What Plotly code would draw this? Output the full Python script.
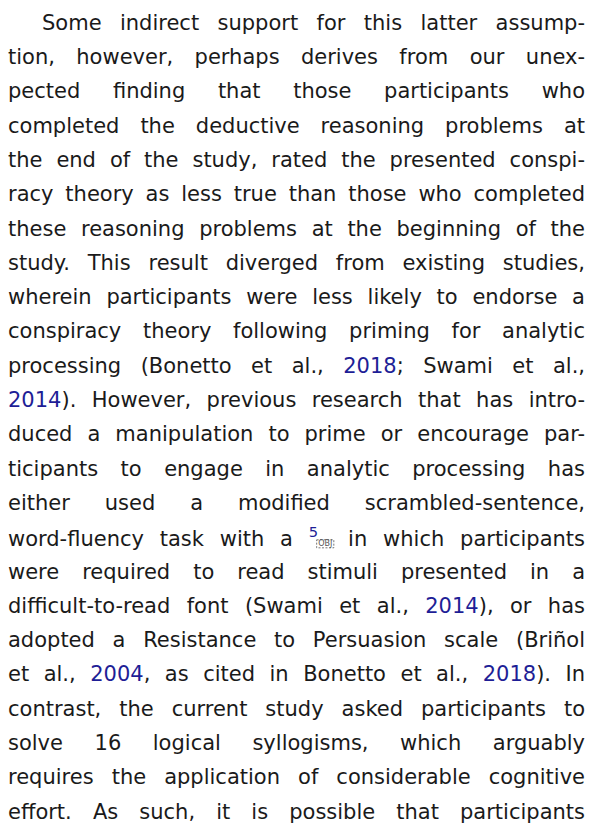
import json
import re
import plotly.graph_objects as go

# ---- content (text only) ----
lines = [
    "Some indirect support for this latter assump-",
    "tion, however, perhaps derives from our unex-",
    "pected finding that those participants who",
    "completed the deductive reasoning problems at",
    "the end of the study, rated the presented conspi-",
    "racy theory as less true than those who completed",
    "these reasoning problems at the beginning of the",
    "study. This result diverged from existing studies,",
    "wherein participants were less likely to endorse a",
    "conspiracy theory following priming for analytic",
    "processing (Bonetto et al., [[2018]]; Swami et al.,",
    "[[2014]]). However, previous research that has intro-",
    "duced a manipulation to prime or encourage par-",
    "ticipants to engage in analytic processing has",
    "either used a modified scrambled-sentence,",
    "word-fluency task with a ^^5^^##OBJ## in which participants",
    "were required to read stimuli presented in a",
    "difficult-to-read font (Swami et al., [[2014]]), or has",
    "adopted a Resistance to Persuasion scale (Briñol",
    "et al., [[2004]], as cited in Bonetto et al., [[2018]]). In",
    "contrast, the current study asked participants to",
    "solve 16 logical syllogisms, which arguably",
    "requires the application of considerable cognitive",
    "effort. As such, it is possible that participants",
]
indented_lines = [0]

# ---- styles / layout ----
W, H = 591, 832
FONT = "DejaVu Sans"
FONT_SIZE = 21
TEXT_COLOR = "#1a1a1a"
LINK_COLOR = "#1e1e96"
LEFT = 8
INDENT = 42
RIGHT = 585
FIRST_BASELINE = 30
LINE_STEP = 34.3
CENTER_OFFSET = 7.3


def to_markup(s):
    s = re.sub(r"\[\[(.*?)\]\]", r'<span style="color:%s">\1</span>' % LINK_COLOR, s)
    s = re.sub(r"\^\^(.*?)\^\^", r'<sup><span style="color:%s">\1</span></sup>' % LINK_COLOR, s)
    s = re.sub(r"##(.*?)##", r'<span style="font-size:8px;color:#555">\1</span>', s)
    return s


fig = go.Figure()
annotations = []
targets = []
for i, line in enumerate(lines):
    left = INDENT if i in indented_lines else LEFT
    baseline = FIRST_BASELINE + i * LINE_STEP
    annotations.append(dict(
        x=left, y=baseline - CENTER_OFFSET, xref="x", yref="y",
        text=to_markup(line), showarrow=False,
        xanchor="left", yanchor="middle", align="left",
        borderpad=0, borderwidth=0,
        font=dict(family=FONT, size=FONT_SIZE, color=TEXT_COLOR),
    ))
    targets.append(RIGHT - left)

fig.update_layout(
    width=W, height=H, autosize=False,
    margin=dict(l=0, r=0, t=0, b=0),
    paper_bgcolor="white", plot_bgcolor="white",
    xaxis=dict(visible=False, range=[0, W], fixedrange=True),
    yaxis=dict(visible=False, range=[H, 0], fixedrange=True),
    annotations=annotations,
    showlegend=False,
)

post = """
(function(){
  document.body.style.margin='0';
  var gd = document.getElementById('{plot_id}');
  var targets = TARGETS;
  var anns = gd.querySelectorAll('g.annotation');
  anns.forEach(function(a){
    var i = +a.getAttribute('data-index');
    var t = a.querySelector('text.annotation-text');
    if(!t) return;
    var target = targets[i];
    var s = t.textContent;
    var n = (s.match(/ /g)||[]).length;
    if(n && target){
      t.style.wordSpacing = '0px';
      var len = t.getComputedTextLength();
      t.style.wordSpacing = ((target-len)/n) + 'px';
    }
    var k = s.indexOf('OBJ');
    if(k >= 0){
      try{
        var e1 = t.getExtentOfChar(k), e2 = t.getExtentOfChar(k+2);
        var r = document.createElementNS('http://www.w3.org/2000/svg','rect');
        r.setAttribute('x', e1.x - 1.5);
        r.setAttribute('y', e1.y + 1);
        r.setAttribute('width', e2.x + e2.width - e1.x + 3);
        r.setAttribute('height', e1.height - 1);
        r.setAttribute('fill','none');
        r.setAttribute('stroke','#555');
        r.setAttribute('stroke-width','0.8');
        r.setAttribute('stroke-dasharray','2,1.5');
        t.parentNode.insertBefore(r, t);
      }catch(err){}
    }
  });
})();
""".replace("TARGETS", json.dumps(targets))

fig.write_html("out.html", config={"displayModeBar": False, "responsive": False,
                                   "staticPlot": True}, post_script=post)
